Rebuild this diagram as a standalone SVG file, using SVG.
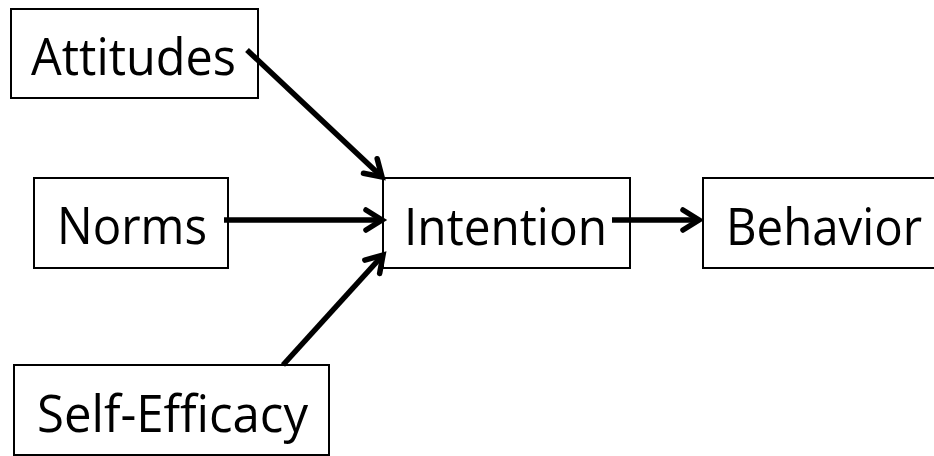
<svg xmlns="http://www.w3.org/2000/svg" width="934" height="456" viewBox="0 0 934 456">
<style>
.box{fill:#fff;stroke:#000;stroke-width:2}
.lbl{font-family:"Open Sans","Noto Sans","DejaVu Sans",sans-serif;font-size:52px;fill:#000}
.conn{stroke:#000;stroke-width:5.5;fill:none;stroke-linecap:butt}
</style>
<defs>
<marker id="arr" markerUnits="userSpaceOnUse" markerWidth="26" markerHeight="26" refX="19" refY="13" orient="auto" overflow="visible">
<path d="M3,3 L19,13 L3,23" fill="none" stroke="#000" stroke-width="5.5" stroke-linecap="round" stroke-linejoin="miter"/>
</marker>
</defs>
<rect width="934" height="456" fill="#fff"/>
<g id="attitudes"><rect class="box" x="11" y="9" width="247" height="89"/><text class="lbl" x="31" y="75" textLength="205" lengthAdjust="spacingAndGlyphs">Attitudes</text></g>
<g id="norms"><rect class="box" x="34" y="178" width="194" height="90"/><text class="lbl" x="57" y="244" textLength="150" lengthAdjust="spacingAndGlyphs">Norms</text></g>
<g id="selfefficacy"><rect class="box" x="14" y="365" width="315" height="90"/><text class="lbl" x="37" y="432" textLength="271" lengthAdjust="spacingAndGlyphs">Self-Efficacy</text></g>
<g id="intention"><rect class="box" x="383" y="178" width="247" height="90"/><text class="lbl" x="404" y="245" textLength="203" lengthAdjust="spacingAndGlyphs">Intention</text></g>
<g id="behavior"><rect class="box" x="703" y="178" width="240" height="90"/><text class="lbl" x="726" y="245" textLength="196" lengthAdjust="spacingAndGlyphs">Behavior</text></g>
<g id="connectors">
<line class="conn" x1="247" y1="50" x2="382" y2="177" marker-end="url(#arr)"/>
<line class="conn" x1="224" y1="220" x2="382" y2="220" marker-end="url(#arr)"/>
<line class="conn" x1="283" y1="365" x2="383" y2="255" marker-end="url(#arr)"/>
<line class="conn" x1="612" y1="220" x2="699" y2="220" marker-end="url(#arr)"/>
</g>
</svg>
